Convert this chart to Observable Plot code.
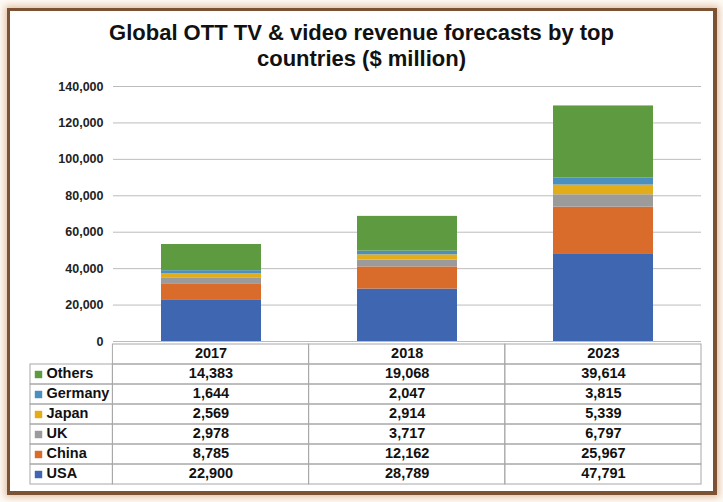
<!DOCTYPE html>
<html>
<head>
<meta charset="utf-8">
<script src="https://cdn.jsdelivr.net/npm/d3@7"></script>
<script src="https://cdn.jsdelivr.net/npm/@observablehq/plot@0.6"></script>
<style>
  html, body { margin: 0; padding: 0; background: #fdfaf5; }
  #page { position: relative; width: 723px; height: 502px; overflow: hidden; font-family: "Liberation Sans", Arial, sans-serif; }
  #frame { position: absolute; left: 7px; top: 8px; width: 703px; height: 480px; border: 3px solid #7b5233; border-right-width: 4px; border-bottom-width: 4px; background: #fff;
           box-shadow: 0 0 7px 2px rgba(205,140,90,0.55); }
  #title { position: absolute; left: 0; top: 20px; width: 723px; text-align: center; font-weight: bold; font-size: 22px; line-height: 26px; color: #111; }
  #chart { position: absolute; left: 0; top: 76px; }
  #table { position: absolute; left: 0; top: 341px; }
  svg { overflow: visible; }
</style>
</head>
<body>
<div id="page">
  <div id="frame"></div>
  <div id="title">Global OTT TV &amp; video revenue forecasts by top<br>countries ($ million)</div>
  <div id="chart"></div>
  <div id="table"></div>
</div>
<script>
const years = ["2017", "2018", "2023"];
const series = ["USA", "China", "UK", "Japan", "Germany", "Others"];
const colors = ["#3f66b0", "#d96b2b", "#9b9b9b", "#e3ad1a", "#4b8fc0", "#5e9a3f"];
const USA = [22900, 28789, 47791];
const China = [8785, 12162, 25967];
const UK = [2978, 3717, 6797];
const Japan = [2569, 2914, 5339];
const Germany = [1644, 2047, 3815];
const Others = [14383, 19068, 39614];
const yTicks = [0, 20000, 40000, 60000, 80000, 100000, 120000, 140000];

const valuesBySeries = {USA, China, UK, Japan, Germany, Others};
const rows = [];
series.forEach(s => years.forEach((y, i) => rows.push({series: s, year: y, col: i, value: valuesBySeries[s][i]})));

const fmt = d3.format(",");
const font = "Liberation Sans, Arial, sans-serif";

const chart = Plot.plot({
  width: 723,
  height: 265,
  marginLeft: 113,
  marginRight: 22,
  marginTop: 10,
  marginBottom: 0,
  style: {fontFamily: font, fontSize: "12.5px", fontWeight: "bold", color: "#222", background: "transparent"},
  x: {domain: years, paddingInner: 0.49, paddingOuter: 0.245, axis: null},
  y: {domain: [0, 140000], ticks: yTicks, tickFormat: fmt, tickSize: 0, tickPadding: 10, label: null},
  color: {domain: series, range: colors},
  marks: [
    Plot.gridY(yTicks, {stroke: "#bcbcbc", strokeOpacity: 1}),
    Plot.axisY(yTicks, {tickSize: 0, tickPadding: 10, tickFormat: fmt, label: null}),
    Plot.barY(rows, {x: "year", y: "value", fill: "series", order: series})
  ]
});
document.getElementById("chart").appendChild(chart);

// Data table below the chart
const rowOrder = ["header", ...series.slice().reverse()];
const labelW = 0.42; // label column width in column units
const table = Plot.plot({
  width: 723,
  height: 147,
  marginLeft: 30,
  marginRight: 22,
  marginTop: 0,
  marginBottom: 1,
  style: {fontFamily: font, fontSize: "14.5px", fontWeight: "bold", color: "#111", background: "transparent"},
  x: {domain: [-labelW, 3], axis: null},
  y: {domain: rowOrder, padding: 0, axis: null},
  color: {domain: series, range: colors},
  marks: [
    Plot.barX(years.map((y, i) => ({year: y, col: i})), {x1: "col", x2: d => d.col + 1, y: () => "header", fill: "none", stroke: "#a8a8a8"}),
    Plot.barX(rows, {x1: "col", x2: d => d.col + 1, y: "series", fill: "none", stroke: "#a8a8a8"}),
    Plot.barX(series, {x1: () => -labelW, x2: () => 0, y: d => d, fill: "none", stroke: "#a8a8a8"}),
    Plot.text(years.map((y, i) => ({year: y, col: i})), {x: d => d.col + 0.5, y: () => "header", dy: -1, text: "year", fill: "#111"}),
    Plot.text(rows, {x: d => d.col + 0.5, y: "series", dy: -1, text: d => fmt(d.value), fill: "#111"}),
    Plot.dot(series, {x: () => -labelW, y: d => d, dx: 8, symbol: "square", r: 4.2, fill: d => d}),
    Plot.text(series, {x: () => -labelW, y: d => d, dx: 16, dy: -1, text: d => d, textAnchor: "start", fill: "#111"})
  ]
});
document.getElementById("table").appendChild(table);
</script>
</body>
</html>
